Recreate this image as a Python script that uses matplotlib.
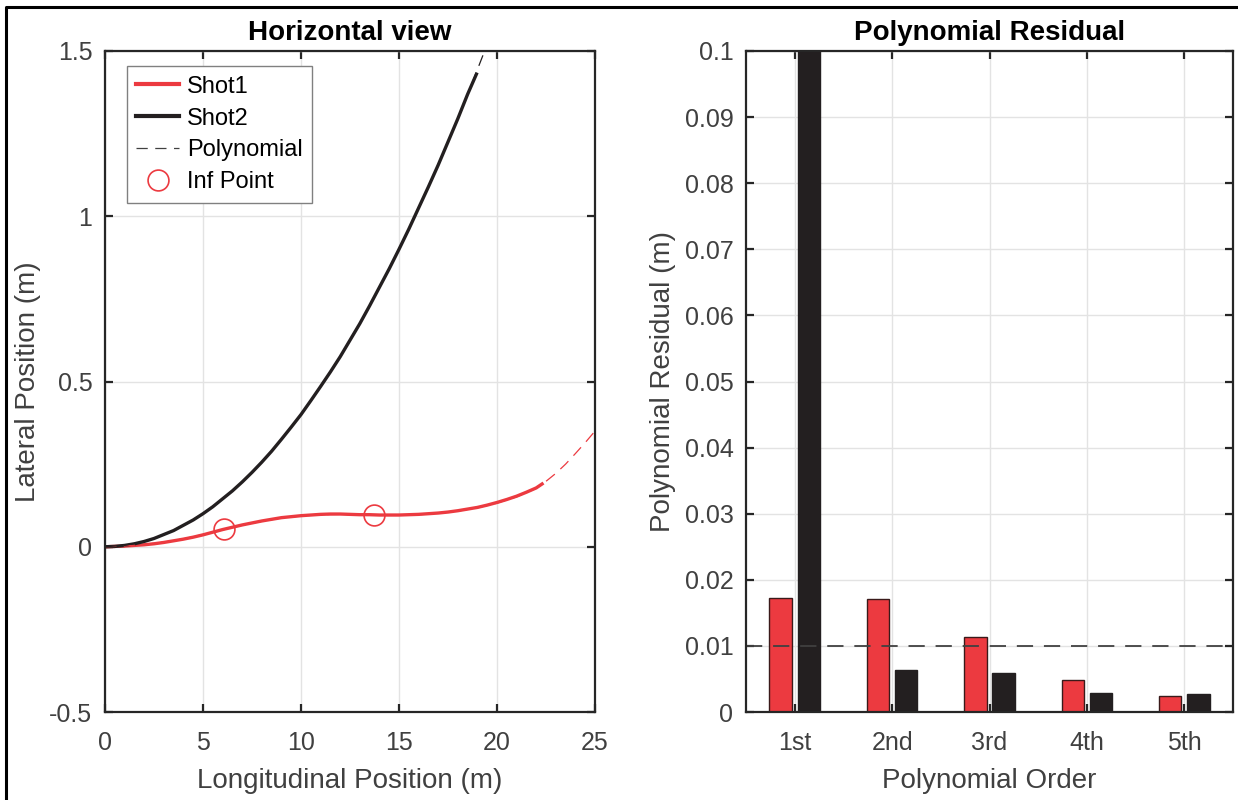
import numpy as np
import matplotlib
matplotlib.use("Agg")
import matplotlib.pyplot as plt
from matplotlib.lines import Line2D

plt.rcParams['font.family'] = ['Liberation Sans', 'DejaVu Sans']

RED = '#EC3A40'
BLACK = '#231F20'
AXC = '#262626'
TXT = '#404040'

# horizontal trajectories (longitudinal m, lateral m)
shot1_x = [0, 0.5, 1, 1.5, 2, 2.5, 3, 3.5, 4, 4.5, 5, 5.5, 6, 6.5, 7, 7.5, 8, 8.5, 9, 9.5, 10,
           10.5, 11, 11.5, 12, 12.5, 13, 13.5, 14, 14.5, 15, 15.5, 16, 16.5, 17, 17.5, 18, 18.5,
           19, 19.5, 20, 20.5, 21, 21.5, 22, 22.3]
shot1_y = [0, 0.001, 0.002, 0.004, 0.006, 0.009, 0.013, 0.018, 0.023, 0.029, 0.036, 0.044,
           0.052, 0.059, 0.066, 0.072, 0.078, 0.083, 0.088, 0.091, 0.094, 0.096, 0.098, 0.099,
           0.099, 0.098, 0.097, 0.097, 0.096, 0.096, 0.096, 0.097, 0.098, 0.100, 0.102, 0.105,
           0.109, 0.114, 0.119, 0.126, 0.134, 0.143, 0.153, 0.165, 0.178, 0.19]
shot2_x = [0, 0.5, 1, 1.5, 2, 2.5, 3, 3.5, 4, 4.5, 5, 5.5, 6, 6.5, 7, 7.5, 8, 8.5, 9, 9.5, 10,
           10.5, 11, 11.5, 12, 12.5, 13, 13.5, 14, 14.5, 15, 15.5, 16, 16.5, 17, 17.5, 18,
           18.5, 18.95]
shot2_y = [0, 0.001, 0.004, 0.009, 0.016, 0.025, 0.037, 0.049, 0.065, 0.081, 0.100, 0.121,
           0.145, 0.169, 0.196, 0.225, 0.256, 0.289, 0.325, 0.362, 0.40, 0.442, 0.485, 0.529,
           0.575, 0.625, 0.675, 0.729, 0.785, 0.841, 0.90, 0.961, 1.025, 1.089, 1.155, 1.225,
           1.295, 1.369, 1.43]

# polynomial fits (extended past the data)
poly1_x = [0, 1, 2, 3, 4, 5, 6, 7, 8, 9, 10, 11, 12, 13, 14, 15, 16, 17, 18, 19, 20, 21, 22,
           22.5, 23, 23.5, 24, 24.5, 25]
poly1_y = [0, 0.002, 0.007, 0.014, 0.024, 0.037, 0.051, 0.065, 0.077, 0.087, 0.093, 0.097, 0.098,
           0.097, 0.096, 0.095, 0.097, 0.101, 0.108, 0.118, 0.132, 0.151, 0.177,
           0.198, 0.222, 0.25, 0.282, 0.315, 0.35]
poly2_x = [0, 1, 2, 3, 4, 5, 6, 7, 8, 9, 10, 11, 12, 13, 14, 15, 16, 17, 18, 18.5, 19, 19.5, 20]
poly2_y = [0, 0.004, 0.016, 0.036, 0.064, 0.100, 0.144, 0.196, 0.256, 0.324, 0.40, 0.484, 0.576,
           0.676, 0.784, 0.90, 1.024, 1.156, 1.296, 1.369, 1.444, 1.52, 1.60]

inf_x = [6.05, 13.7]
inf_y = [0.053, 0.097]

# residual per polynomial order
orders = ['1st', '2nd', '3rd', '4th', '5th']
resid_shot1 = [0.0172, 0.0171, 0.0114, 0.0048, 0.0024]
resid_shot2 = [0.35, 0.0064, 0.0059, 0.0029, 0.0027]
threshold = 0.01

fig = plt.figure(figsize=(12.38, 8.0), dpi=100)
ax1 = fig.add_axes([105 / 1238, 1 - 712 / 800, 490 / 1238, 661 / 800])
ax2 = fig.add_axes([746 / 1238, 1 - 712 / 800, 487 / 1238, 661 / 800])


def style(ax):
    for s in ax.spines.values():
        s.set_color(AXC)
        s.set_linewidth(1.6)
    ax.tick_params(direction='in', length=6, width=1.6, color=AXC, top=True, right=True,
                   labelsize=18, labelcolor=TXT)
    ax.tick_params(axis='x', pad=14)
    ax.tick_params(axis='y', pad=9)
    ax.grid(True, color='#e3e3e3', linewidth=1.0)
    ax.set_axisbelow(True)


# left: horizontal view
ax1.plot(shot1_x, shot1_y, color=RED, lw=2.4, label='Shot1')
ax1.plot(shot2_x, shot2_y, color=BLACK, lw=2.4, label='Shot2')
ax1.plot(poly1_x, poly1_y, color=RED, lw=0.9, dashes=(9, 6))
ax1.plot(poly2_x, poly2_y, color=BLACK, lw=0.9, dashes=(9, 6))
ax1.plot(inf_x, inf_y, 'o', mfc='none', mec=RED, ms=15, mew=1.2, label='Inf Point')
ax1.set_xlim(0, 25)
ax1.set_ylim(-0.5, 1.5)
ax1.set_xticks([0, 5, 10, 15, 20, 25])
ax1.set_yticks([-0.5, 0, 0.5, 1, 1.5])
ax1.set_yticklabels(['-0.5', '0', '0.5', '1', '1.5'])
ax1.set_xlabel('Longitudinal Position (m)', fontsize=20, color=TXT, labelpad=9)
ax1.set_ylabel('Lateral Position (m)', fontsize=20, color=TXT, labelpad=6)
ax1.set_title('Horizontal view', fontsize=20, fontweight='bold', pad=8)
style(ax1)

handles = [Line2D([], [], color=RED, lw=3),
           Line2D([], [], color=BLACK, lw=3),
           Line2D([], [], color=TXT, lw=0.9, dashes=(9, 6)),
           Line2D([], [], ls='none', marker='o', mfc='none', mec=RED, ms=15, mew=1.2)]
leg = ax1.legend(handles, ['Shot1', 'Shot2', 'Polynomial', 'Inf Point'],
                 loc='upper left', bbox_to_anchor=(0.045, 0.977), fontsize=17,
                 fancybox=False, framealpha=1, edgecolor='#808080', handlelength=1.8,
                 handletextpad=0.35, borderpad=0.4, labelspacing=0.42, borderaxespad=0)
leg.get_frame().set_linewidth(1.0)

# right: polynomial residuals
pos = np.arange(1, len(orders) + 1)
w = 0.23
ax2.bar(pos - 0.145, resid_shot1, w, color=RED, edgecolor='#3a1a1a', linewidth=1.0)
ax2.bar(pos + 0.145, resid_shot2, w, color=BLACK, edgecolor=BLACK, linewidth=1.0)
ax2.axhline(threshold, color=TXT, lw=1.3, dashes=(9, 6))
ax2.set_xlim(0.5, 5.5)
ax2.set_ylim(0, 0.1)
ax2.set_xticks(pos)
ax2.set_xticklabels(orders)
ax2.set_yticks(np.arange(0, 0.101, 0.01))
ax2.set_yticklabels(['0'] + ['%.2f' % v for v in np.arange(0.01, 0.095, 0.01)] + ['0.1'])
ax2.set_xlabel('Polynomial Order', fontsize=20, color=TXT, labelpad=9)
ax2.set_ylabel('Polynomial Residual (m)', fontsize=20, color=TXT, labelpad=6)
ax2.set_title('Polynomial Residual', fontsize=20, fontweight='bold', pad=8)
style(ax2)

# outer frame on top and left
fig.add_artist(Line2D([6 / 1238, 6 / 1238, 1], [0, 1 - 7 / 800, 1 - 7 / 800],
                      color='black', lw=2.2, transform=fig.transFigure))

fig.savefig('out.png', dpi=100)
